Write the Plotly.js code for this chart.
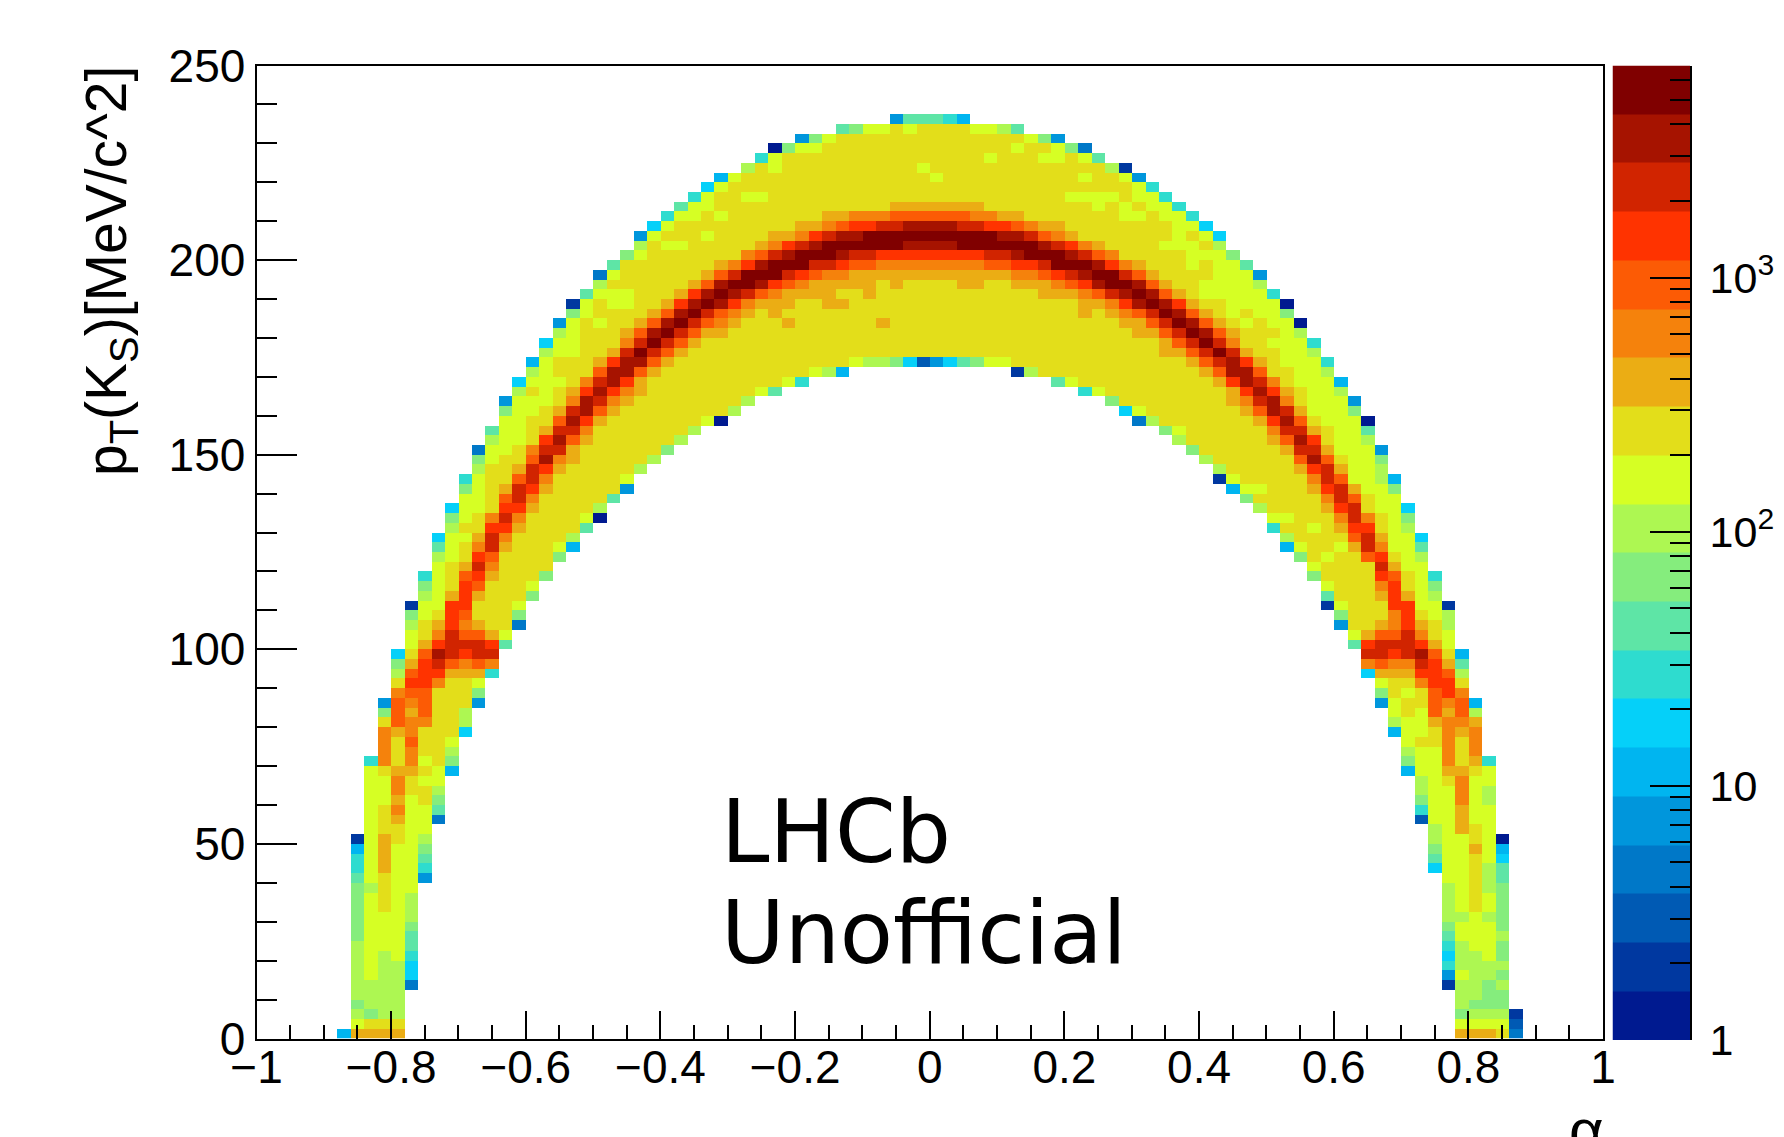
<!DOCTYPE html>
<html>
<head>
<meta charset="utf-8">
<script src="https://cdn.plot.ly/plotly-3.0.1.min.js"></script>
<style>html,body{margin:0;padding:0;background:#fff;overflow:hidden}#chart{width:1784px;height:1137px}</style>
</head>
<body>
<div id="chart"></div>
<script>
// palette bands, lowest (a) to highest (t)
const bandLetters = "abcdefghijklmnopqrst";
const bandColors = ["#001a90","#0038a0","#005ab4","#0078c8","#0096dc","#00b5f0","#05d0f9","#2edccf","#5ee5a6","#85ed7d",
                    "#adf752","#d6ff24","#e3de1a","#ebad14","#f5820c","#fc5b05","#ff3300","#d12400","#a61300","#800000"];
// histogram rows, bottom row first.
// run syntax: letter = one cell, letterN = N cells, letter@C = repeat up to column C, _ = empty
const histRows = [
"_@6 f n4 _@89 n3 m d",
"_@7 l m3 _@89 l4 c",
"_@7 k j k2 _@89 j k3 b",
"_@7 j k3 _@89 k j3",
"_@7 k4 _@89 k2 j2",
"_@7 k4 d _@88 b k2 j k",
"_@7 k l k2 g _@88 e l k2 j",
"_@7 k l k2 g _@88 h k4",
"_@7 k l k l h _@88 g k2 l j",
"_@7 k l3 i _@88 h k l2 j",
"_@7 j l3 i _@88 i l3 k",
"_@7 j l3 j _@88 j l3 j",
"_@7 j l3 k _@88 k2 l k j",
"_@7 j l m l k _@88 k l m l j",
"_@7 j l m l k _@88 k l m l j",
"_@7 j k m l2 _@88 k l m k j",
"_@7 i l m l2 e _@88 l2 m k i",
"_@7 h l n l2 h _@87 g l2 m k i",
"_@7 h l n l2 i _@87 i l2 m l g",
"_@7 f l n l2 j _@87 j l2 n l f",
"_@7 b l n m l k _@87 k l2 m l a",
"_@8 l m2 l2 _@87 k l n m l",
"_@8 l m n l2 d _@86 c l2 n l2",
"_@8 l m o l2 i _@86 h l2 n l2",
"_@8 l2 n l m j _@86 j l2 o l k",
"_@8 l2 o m2 k _@86 k l2 o l k",
"_@8 l2 o m l2 _@86 k l m o l2",
"_@8 l m n2 m l f _@85 f l2 n2 m l",
"_@8 h o m o l m j _@85 j l2 o m n h",
"_@9 o m o m2 k _@85 k l2 o m o",
"_@9 o m p m2 l _@85 l m2 o m o",
"_@9 o n o m3 g _@84 f l2 m o n o",
"_@9 m p o2 m2 k _@84 k l2 n o2 n",
"_@9 j p n p m2 k _@84 l m l p n p k",
"_@9 e p o p m3 e _@83 e l m2 p o p f",
"_@10 o p2 m3 j _@83 j m l m p q o",
"_@10 m q2 o m2 l _@83 l m2 o q2 m",
"_@10 k p q2 n3 h _@82 g n3 q2 p k",
"_@10 j n q r p o p o _@82 o p o2 r q n i",
"_@10 g m p s r q r2 _@82 r2 q r s p m f",
"_@11 l n q r3 q i _@81 i q r3 q n l",
"_@11 l m o r p2 n l _@81 l n p2 r o m l",
"_@11 k m n q o n m2 d _@80 e m2 n o q n m k",
"_@11 j l m q p m3 j _@80 j m3 o q m l k",
"_@11 b l2 q2 m3 l _@79 b l m3 q2 l2 b",
"_@12 k l n q n m3 j _@79 i m3 n q n l k",
"_@12 j l m q p m3 l _@79 l m3 o q m l j",
"_@12 h l m p q n m3 j _@78 j m4 q p m l h",
"_@13 l m n r o m4 _@78 l m4 r n l2",
"_@13 k l m q p m4 j _@77 j m l m2 p q m l k",
"_@13 i l m o r n m3 l f _@76 f l m2 l n r o l2 i",
"_@13 g l2 n r o m4 k _@76 k m4 p r n l2 g",
"_@14 k m2 q2 n m4 i _@75 h m2 l m n q2 m l k",
"_@14 j l m o r o m4 l a _@75 l2 m3 o r o m l j",
"_@14 g l2 m q2 n m4 k _@74 k m4 n q r m l2 g",
"_@15 l2 m p r o m5 i _@73 j m5 o r p m l2",
"_@15 j l m n r q n m5 e _@72 f l2 m3 n q r n l2 j",
"_@15 h l m2 p r o m5 l _@71 b l m5 o r p l2 k f",
"_@16 k m2 n r q n m5 k _@71 k m5 n q r n l2 k",
"_@16 j l m2 p s o n m5 k _@70 k m6 p s p m l2 j",
"_@16 d l2 m o r2 n m6 j _@69 j m6 n r2 n l3 e",
"_@17 k l2 m q s p n m6 k _@68 k m6 n p s q m l2 k",
"_@17 i l2 m n r2 o m@32 k _@67 j l m@75 o r2 n m l2 i",
"_@18 l2 m2 p s q n m@33 l a _@65 d k m@74 n q s p m l3 a",
"_@18 j l2 m n r s p n m@35 k _@64 g l m@73 n p s r n l3 j",
"_@18 e l3 m o s r o n m@36 k _@63 j m@72 n o r s o m l3 e",
"_@19 k m l m n q s q o n m@37 l i _@61 h l m@72 n q s q n m l2 k",
"_@19 g l3 m o r s q n m@39 l h _@59 i l m@71 n q s r o m l3 f",
"_@20 k l m3 p s2 p n m@41 l k f _@56 b k m@70 n p s2 p m2 l2 k",
"_@20 f l m3 n q s2 p n m@44 l k2 j g c e g i j l2 m@69 n p r s q n m l3 h",
"_@21 k l2 m2 n r t r p n m@67 n2 p r t r n m2 l2 k",
"_@21 g l2 m3 o r t r p n m@67 n p r t r o m2 l3 h",
"_@22 k l m3 n p s t r p n2 m@65 n2 p r t s p n m3 l k",
"_@22 e l m l m2 n p s t r p o n m@39 n m@46 n m@64 n2 p r t s p n m l m l2 a",
"_@23 j l m4 n p s t r p o n m n m@61 n m n o p r t s p n m l m l2 j",
"_@23 b l m l2 m2 n q s t s q o n3 m2 n2 m@61 n2 o q s t s q n m2 l4 a",
"_@24 i l3 m3 n q s t s r p o n4 m2 n m@58 n3 o p r s t s p n m l5 h",
"_@25 k m6 n p s t2 s q p o n5 m n m4 n2 m2 n3 o p q s t2 s p n m2 l4 k",
"_@25 d l m6 n p r t3 r q p o2 n12 o2 p q r s t2 r p n m4 l3 e",
"_@26 i m7 n o q s t3 r2 q p2 o8 p2 q2 r t3 s q o n m3 l m l2 i",
"_@27 j l m7 o p r s t3 s r2 q8 r2 s t3 s r p o m5 l3 j",
"_@28 k m l2 m5 n o q r s t6 s4 t6 s r q o n m4 l3 m k",
"_@28 e l m3 l m4 n2 o q r s2 t10 s2 r p o n m7 l m l g",
"_@29 g l m9 n2 o p q2 r2 s4 r2 q2 p o n2 m8 l2 g",
"_@30 h l2 m l m7 n2 o3 p6 o2 n2 m7 l2 m l2 h",
"_@31 i l2 m13 n7 m8 l m l m l2 h",
"_@32 h l m2 l2 m@60 l4 m l2 h",
"_@33 g l m@65 l h",
"_@34 f l m@50 l m@61 l m2 l e",
"_@36 k m l m@49 l m@63 k b",
"_@37 h l m@54 l m@58 l2 m l i",
"_@38 a j l2 m@56 l m2 l j d",
"_@40 e j l m@57 l j e",
"_@43 i j l2 m l m4 l2 k i",
"_@47 e i3 h f"
];
const xBinCount = 100, yBinCount = 100, xMin = -1, xMax = 1, yMin = 0, yMax = 250;
// colour axis: palette spans 1 to about 6825 counts on a log scale
const paletteMax = 6825;
const majorColorTicks = [1, 10, 100, 1000];
const majorColorLabels = ["1", "10", "10<sup>2</sup>", "10<sup>3</sup>"];
const minorColorTicks = [2,3,4,5,6,7,8,9,20,30,40,50,60,70,80,90,200,300,400,500,600,700,800,900,2000,3000,4000,5000,6000];

function expandRow(text) {
  const cells = new Array(xBinCount).fill(null);
  let col = 0;
  text.split(" ").forEach(tok => {
    const m = tok.match(/^([a-t_])(@?)(\d*)$/);
    const n = m[2] ? Number(m[3]) - col : (m[3] ? Number(m[3]) : 1);
    const v = m[1] === "_" ? null : bandLetters.indexOf(m[1]) + 1;
    for (let i = 0; i < n; i++) { cells[col++] = v; }
  });
  return cells;
}
const z = [];
for (let j = 0; j < yBinCount; j++) {
  z.push(j < histRows.length ? expandRow(histRows[j]) : new Array(xBinCount).fill(null));
}
const xEdges = Array.from({length: xBinCount + 1}, (_, i) => xMin + (xMax - xMin) * i / xBinCount);
const yEdges = Array.from({length: yBinCount + 1}, (_, j) => yMin + (yMax - yMin) * j / yBinCount);
const n = bandColors.length;
const scale = [];
bandColors.forEach((c, k) => { scale.push([k / n, c]); scale.push([(k + 1) / n, c]); });
const barEdges = Array.from({length: n + 1}, (_, k) => Math.pow(paletteMax, k / n));
const barZ = bandColors.map((_, k) => [k + 1]);

const W = 1784, H = 1137;
const px = v => v / W, py = v => 1 - v / H;
const blackFont = (size, family) => ({family: family || "Liberation Sans", size: size, color: "#000"});

const traces = [
  {type: "heatmap", x: xEdges, y: yEdges, z: z, colorscale: scale, zmin: 0.5, zmax: n + 0.5, showscale: false, hoverongaps: false, xaxis: "x", yaxis: "y"},
  {type: "heatmap", x: [0, 1], y: barEdges, z: barZ, colorscale: scale, zmin: 0.5, zmax: n + 0.5, showscale: false, xaxis: "x2", yaxis: "y2"}
];
const layout = {
  width: W, height: H, margin: {l: 0, r: 0, t: 0, b: 0}, paper_bgcolor: "#fff", plot_bgcolor: "#fff", showlegend: false,
  xaxis: {domain: [px(256.5), px(1603)], range: [xMin, xMax], tick0: -1, dtick: 0.2, ticks: "inside", ticklen: 28, tickwidth: 2, tickcolor: "#000",
    showline: true, linewidth: 2, linecolor: "#000", mirror: true, showgrid: false, zeroline: false, tickfont: blackFont(46), ticklabelstandoff: -13,
    minor: {dtick: 0.05, tick0: -1, ticks: "inside", ticklen: 14, tickwidth: 2, tickcolor: "#000", showgrid: false}},
  yaxis: {domain: [py(1038.5), py(65.5)], range: [yMin, yMax], dtick: 50, ticks: "inside", ticklen: 40, tickwidth: 2, tickcolor: "#000",
    showline: true, linewidth: 2, linecolor: "#000", mirror: true, showgrid: false, zeroline: false, tickfont: blackFont(46), ticklabelstandoff: 0,
    minor: {dtick: 10, ticks: "inside", ticklen: 20, tickwidth: 2, tickcolor: "#000", showgrid: false}},
  xaxis2: {domain: [px(1612.5), px(1690)], range: [0, 1], anchor: "y2", visible: false, fixedrange: true},
  yaxis2: {domain: [py(1040), py(65.5)], type: "log", range: [0, Math.log10(paletteMax)], anchor: "x2", side: "right",
    tickmode: "array", tickvals: majorColorTicks, ticktext: majorColorLabels, ticks: "inside", ticklen: 40, tickwidth: 2, tickcolor: "#000",
    showline: true, linewidth: 2, linecolor: "#000", showgrid: false, zeroline: false, tickfont: blackFont(43), ticklabelstandoff: 9,
    minor: {tickmode: "array", tickvals: minorColorTicks, ticks: "inside", ticklen: 20, tickwidth: 2, tickcolor: "#000", showgrid: false}},
  annotations: [
    {text: "p<sub>T</sub>(K<sub>S</sub>)[MeV/c^2]", xref: "paper", yref: "paper", x: px(72), y: py(64), xanchor: "left", yanchor: "top", textangle: -90, showarrow: false, font: blackFont(57)},
    {text: "α", xref: "paper", yref: "paper", x: px(1606), y: py(1095), xanchor: "right", yanchor: "top", showarrow: false, font: blackFont(60)},
    {text: "LHCb", xref: "paper", yref: "paper", x: px(719), y: py(779), xanchor: "left", yanchor: "top", showarrow: false, font: blackFont(87, "DejaVu Sans")},
    {text: "Unofficial", xref: "paper", yref: "paper", x: px(719), y: py(880), xanchor: "left", yanchor: "top", showarrow: false, font: blackFont(87, "DejaVu Sans")}
  ]
};
Plotly.newPlot("chart", traces, layout, {displayModeBar: false});
</script>
</body>
</html>
